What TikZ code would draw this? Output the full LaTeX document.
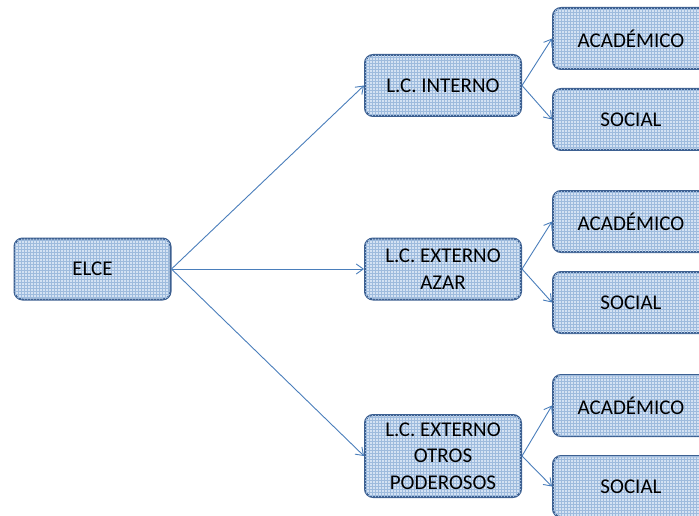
\documentclass[tikz,border=0pt]{standalone}
\usepackage{fontspec}
\setmainfont{Carlito}
\usetikzlibrary{arrows.meta,patterns}
\definecolor{boxline}{RGB}{61,96,145}
\definecolor{boxfill}{RGB}{212,226,243}
\definecolor{boxgrid}{RGB}{158,187,221}
\definecolor{arrowblue}{RGB}{74,126,187}
\tikzset{
  box/.style={draw=boxline, line width=2pt, rounded corners=8pt,
    fill=boxfill, postaction={pattern=grid, pattern color=boxgrid},
    minimum width=156pt, minimum height=61pt, align=center,
    font=\fontsize{21}{26.5}\selectfont, inner sep=2pt},
  tallbox/.style={box, minimum height=82pt},
  link/.style={draw=arrowblue, line width=0.9pt,
    -{Straight Barb[length=7pt,width=10pt,line width=0.9pt]}}
}
\begin{document}
\begin{tikzpicture}[x=1pt,y=-1pt]
  \useasboundingbox (0,0) rectangle (699,516);
  % root
  \node[box] (elce) at (92.5,269) {ELCE};
  % middle column
  \node[box] (int) at (443,85.5) {L.C. INTERNO};
  \node[box] (azar) at (443,269) {L.C. EXTERNO\\AZAR};
  \node[tallbox] (otros) at (443,456) {L.C. EXTERNO\\OTROS\\PODEROSOS};
  % right column
  \node[box] (a1) at (631,38.5) {ACADÉMICO};
  \node[box] (s1) at (631,119.5) {SOCIAL};
  \node[box] (a2) at (631,221.5) {ACADÉMICO};
  \node[box] (s2) at (631,302.5) {SOCIAL};
  \node[box] (a3) at (631,405.5) {ACADÉMICO};
  \node[box] (s3) at (631,486.5) {SOCIAL};
  % connectors
  \draw[link] (elce.east) -- (int.west);
  \draw[link] (elce.east) -- (azar.west);
  \draw[link] (elce.east) -- (otros.west);
  \draw[link] (int.east) -- (a1.west);
  \draw[link] (int.east) -- (s1.west);
  \draw[link] (azar.east) -- (a2.west);
  \draw[link] (azar.east) -- (s2.west);
  \draw[link] (otros.east) -- (a3.west);
  \draw[link] (otros.east) -- (s3.west);
\end{tikzpicture}
\end{document}
